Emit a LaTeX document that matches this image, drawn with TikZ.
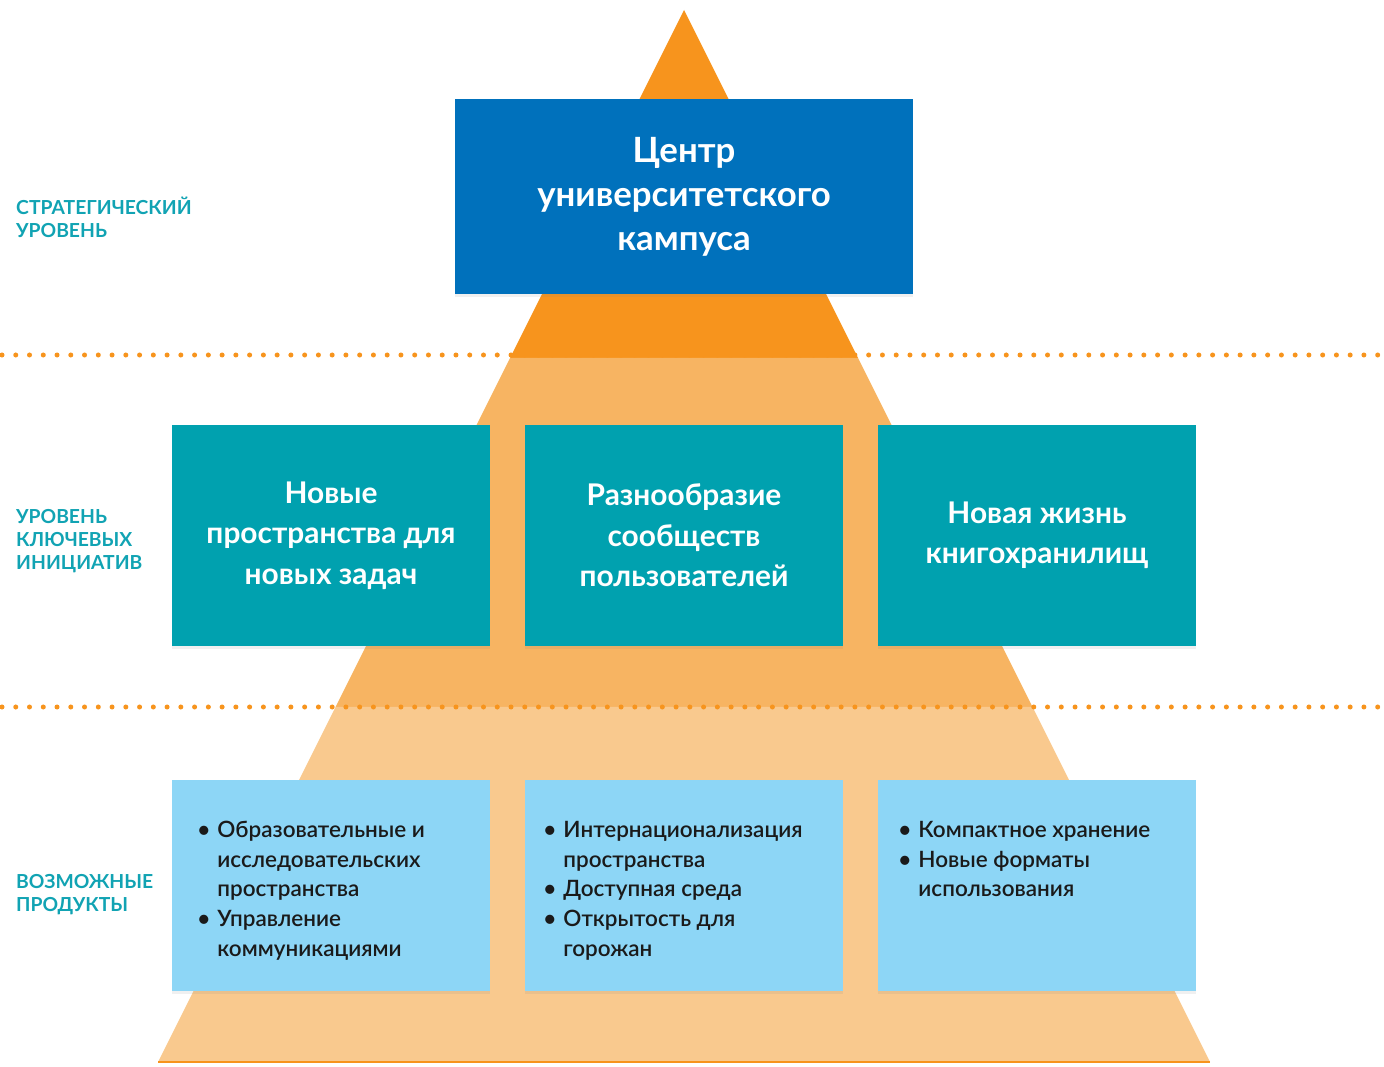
\documentclass[tikz,border=0pt]{standalone}
\usepackage{fontspec}
\setmainfont{Lato}
\newfontfamily\prodfont{Lato Semibold}
\usetikzlibrary{shadows}
\definecolor{topband}{HTML}{F7941D}
\definecolor{midband}{HTML}{F7B462}
\definecolor{lowband}{HTML}{F9C98E}
\definecolor{campusblue}{HTML}{0071BC}
\definecolor{initteal}{HTML}{00A1AF}
\definecolor{prodblue}{HTML}{8DD6F6}
\definecolor{labelteal}{HTML}{11A3B3}
\definecolor{prodtext}{HTML}{1A1A1A}
\begin{document}
\begin{tikzpicture}
    [x=0.02cm,y=-0.02cm,
     box/.style={inner sep=0pt, minimum width=6.36cm, minimum height=4.42cm, align=center,
       drop shadow={shadow xshift=0pt, shadow yshift=-2pt, opacity=0.12}},
     head/.style={box, fill=initteal, text=white, font=\bfseries\fontsize{17}{23}\selectfont},
     prod/.style={box, fill=prodblue, minimum height=4.22cm},
     level/.style={anchor=west, align=left, text=labelteal,
       font=\bfseries\fontsize{11}{13}\selectfont},
     dotline/.style={topband, line width=2.85pt, line cap=round, dash pattern=on 0pt off 7.83pt}]
  \useasboundingbox (0,0) rectangle (1384,1067);

  % pyramid
  \fill[topband] (684,10) -- (858,358) -- (510,358) -- cycle;
  \fill[midband] (510,358) -- (858,358) -- (1032.5,707) -- (335.5,707) -- cycle;
  \fill[lowband] (335.5,707) -- (1032.5,707) -- (1210,1062) -- (158,1062) -- cycle;
  \draw[topband, line width=1.7pt] (158,1062) -- (1210,1062);

  \foreach \y in {355,707}
    \draw[dotline] (2,\y) -- (1384,\y);

  % levels
  \node[level] (l1) at (10,217) {СТРАТЕГИЧЕСКИЙ\\УРОВЕНЬ};
  \node[level] (l2) at (10,541) {УРОВЕНЬ\\КЛЮЧЕВЫХ\\ИНИЦИАТИВ};
  \node[level] (l3) at (10,895) {ВОЗМОЖНЫЕ\\ПРОДУКТЫ};

  \node[box, fill=campusblue, minimum width=9.16cm, minimum height=3.9cm, text=white,
        font=\bfseries\fontsize{19.8}{25}\selectfont] (top) at (684,196.5)
        {Центр\\университетского\\кампуса};

  \node[head] (k1) at (331,535.5) {Новые\\пространства для\\новых задач};
  \node[head] (k2) at (684,535.5) {Разнообразие\\сообществ\\пользователей};
  \node[head] (k3) at (1037,535.5) {Новая жизнь\\книгохранилищ};

  \node[prod] (p1) at (331,885.5) {};
  \node[prod] (p2) at (684,885.5) {};
  \node[prod] (p3) at (1037,885.5) {};

  \tikzset{every node/.style={anchor=north west, inner sep=0pt, text=prodtext,
    font=\prodfont\fontsize{12.8}{17}\selectfont}}
  \node (t1) at (197,816) {\begin{tabular}{@{}l@{\hspace{4pt}}l@{}}
    •&Образовательные и\\&исследовательских\\&пространства\\
    •&Управление\\&коммуникациями\end{tabular}};
  \node (t2) at (543,816) {\begin{tabular}{@{}l@{\hspace{4pt}}l@{}}
    •&Интернационализация\\&пространства\\•&Доступная среда\\
    •&Открытость для\\&горожан\end{tabular}};
  \node (t3) at (898,816) {\begin{tabular}{@{}l@{\hspace{4pt}}l@{}}
    •&Компактное хранение\\•&Новые форматы\\&использования\end{tabular}};
\end{tikzpicture}
\end{document}
